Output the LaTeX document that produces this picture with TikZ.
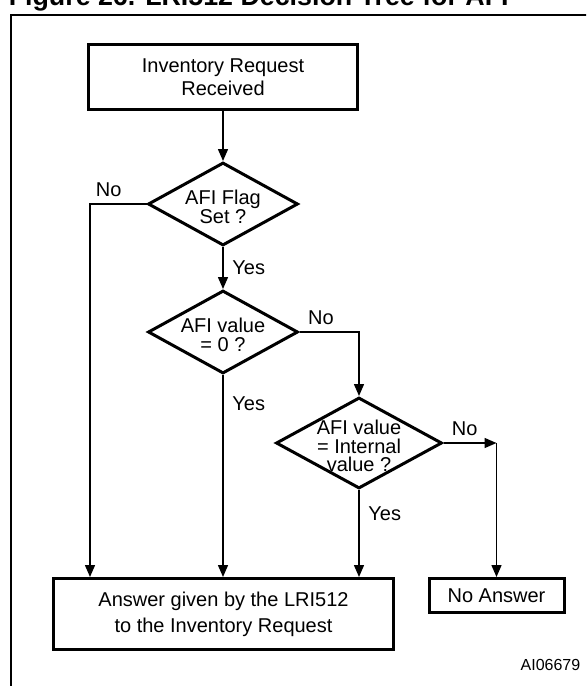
\documentclass[tikz,border=0pt]{standalone}
\usepackage{fontspec}
\setmainfont{Liberation Sans}
\usetikzlibrary{shapes.geometric,arrows.meta}

\begin{document}
\begin{tikzpicture}[x=0.5pt, y=-0.5pt, line width=0.75pt,
  >={Triangle[length=6pt,width=5pt]},
  box/.style = {draw, line width=1.5pt, align=center},
  decision/.style = {draw, diamond, line width=1.5pt, inner sep=0pt},
  dtext/.style = {align=center, yshift=-1.5pt, font=\fontsize{10}{9.3}\selectfont},
  yes/.style = {anchor=west, xshift=1pt},
  no/.style = {anchor=south}]
\useasboundingbox (0,0) rectangle (586,686);
\clip (0,0) rectangle (586,686);
\node[anchor=base west, inner sep=0pt, font=\bfseries\fontsize{13.4}{16}\selectfont] (title) at (8,5) {Figure 26. LRI512 Decision Tree for AFI};
\draw[line width=1pt] (11,700) |- (600,15);
\node[box, minimum width=134.5pt, minimum height=32.5pt, font=\fontsize{10}{11.5}\selectfont] (start) at (223,77) {Inventory Request\\Received};
\node[decision, minimum width=75pt, minimum height=41.5pt] (d1) at (223,204) {};
\node[dtext] (t1) at (d1) {AFI Flag\\Set ?};
\node[decision, minimum width=75pt, minimum height=41.5pt] (d2) at (223,332) {};
\node[dtext] (t2) at (d2) {AFI value\\= 0 ?};
\node[decision, minimum width=83pt, minimum height=45.5pt] (d3) at (359,443) {};
\node[dtext] (t3) at (d3) {AFI value\\= Internal\\value ?};
\node[box, minimum width=170pt, minimum height=35.5pt, font=\fontsize{10}{13}\selectfont] (ans) at (223.5,614) {Answer given by the LRI512\\to the Inventory Request};
\node[box, minimum width=67.5pt, minimum height=17pt] (noans) at (496.5,595.5) {No Answer};
\node[anchor=base east, inner sep=0pt, font=\fontsize{8}{10}\selectfont] (code) at (581,670) {AI06679};
\coordinate (nl) at (90,204);
\coordinate (nr) at (d3.east -| noans.north);
\draw[->] (start.south) -- (d1.north);
\draw[->] (d1.south) -- node[yes] {Yes} (d2.north);
\draw[->] (d1.west) -- node[no, pos=0.67] {No} (nl) -- (nl |- ans.north);
\draw[->] (d2.south) -- node[yes, pos=0.14] {Yes} (d2.south |- ans.north);
\draw[->] (d2.east) -| node[no, pos=0.18] {No} (d3.north);
\draw[->] (d3.south) -- node[yes, pos=0.27] {Yes} (d3.south |- ans.north);
\draw[->] (d3.east) -- node[no, pos=0.4] {No} (nr);
\draw[->] (nr) -- (noans.north);
\end{tikzpicture}
\end{document}
